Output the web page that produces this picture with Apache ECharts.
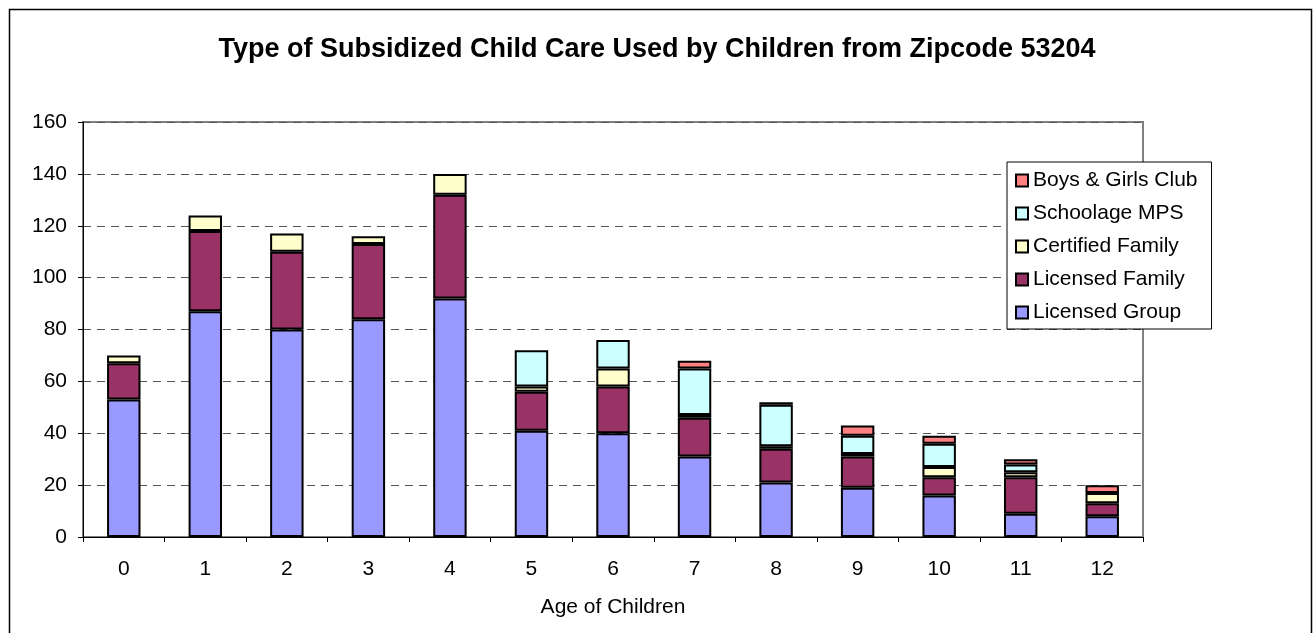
<!DOCTYPE html>
<html><head><meta charset="utf-8">
<script src="https://cdn.jsdelivr.net/npm/echarts@6/dist/echarts.min.js"></script>
<style>html,body{margin:0;padding:0;background:#fff}#c{width:1314px;height:633px}</style>
</head><body><div id="c"></div>
<script>
const ages = ['0','1','2','3','4','5','6','7','8','9','10','11','12'];
const licensedGroup   = [53, 87, 80, 84, 92, 41, 40, 31, 21, 19, 16, 9, 8];
const licensedFamily  = [14, 31, 30, 29, 40, 15, 18, 15, 13, 12, 7, 14, 5];
const certifiedFamily = [3, 6, 7, 3, 8, 2, 7, 1, 1, 1, 4, 2, 4];
const schoolageMPS    = [0, 0, 0, 0, 0, 14, 11, 18, 16, 7, 9, 3, 0];
const boysGirlsClub   = [0, 0, 0, 0, 0, 0, 0, 3, 1, 4, 3, 2, 3];
const yTicks = [0, 20, 40, 60, 80, 100, 120, 140, 160];

const seriesDefs = [
  ['Licensed Group', licensedGroup, '#9999FF'],
  ['Licensed Family', licensedFamily, '#993366'],
  ['Certified Family', certifiedFamily, '#FFFFCC'],
  ['Schoolage MPS', schoolageMPS, '#CCFFFF'],
  ['Boys & Girls Club', boysGirlsClub, '#FF8080']
];
const font = 'Arial, "Liberation Sans", sans-serif';
const chart = echarts.init(document.getElementById('c'), null, {renderer: 'canvas'});
chart.setOption({
  animation: false,
  backgroundColor: '#fff',
  graphic: [{type: 'rect', left: 7, top: 7, shape: {width: 1302, height: 700}, style: {fill: 'none', stroke: '#000', lineWidth: 1.5}, silent: true, z: -1}],
  title: {text: 'Type of Subsidized Child Care Used by Children from Zipcode 53204', left: 'center', top: 31,
    textStyle: {fontFamily: font, fontSize: 27, fontWeight: 'bold', color: '#000'}},
  legend: {orient: 'vertical', left: 1007, top: 162, padding: [8, 14, 6, 8], itemGap: 12, itemWidth: 12, itemHeight: 12,
    icon: 'rect', borderColor: '#000', borderWidth: 1, backgroundColor: '#fff',
    data: ['Boys & Girls Club', 'Schoolage MPS', 'Certified Family', 'Licensed Family', 'Licensed Group'],
    textStyle: {fontFamily: font, fontSize: 21, color: '#000'},
    itemStyle: {borderColor: '#000', borderWidth: 2}},
  grid: {left: 83, right: 171, top: 122, bottom: 96, show: true, borderColor: '#808080', borderWidth: 2, backgroundColor: '#fff'},
  xAxis: {type: 'category', data: ages, boundaryGap: true,
    name: 'Age of Children', nameLocation: 'middle', nameGap: 60,
    nameTextStyle: {fontFamily: font, fontSize: 21, color: '#000'},
    axisLine: {lineStyle: {color: '#000', width: 1}},
    axisTick: {show: true, length: 5, lineStyle: {color: '#000'}},
    axisLabel: {fontFamily: font, fontSize: 21, color: '#000', margin: 22}},
  yAxis: {type: 'value', min: yTicks[0], max: yTicks[yTicks.length-1], interval: 20,
    axisLine: {show: true, lineStyle: {color: '#000', width: 1}},
    axisTick: {show: true, length: 5, lineStyle: {color: '#000'}},
    axisLabel: {fontFamily: font, fontSize: 21, color: '#000', margin: 16},
    splitLine: {show: true, lineStyle: {color: '#555', type: [8, 6], width: 1}}},
  series: seriesDefs.map(([name, vals, color]) => ({
    name, type: 'bar', stack: 'total', barWidth: '41%',
    data: vals.map(v => v === 0 ? null : v),
    itemStyle: {color, borderColor: '#000', borderWidth: 2}
  }))
});
</script></body></html>
